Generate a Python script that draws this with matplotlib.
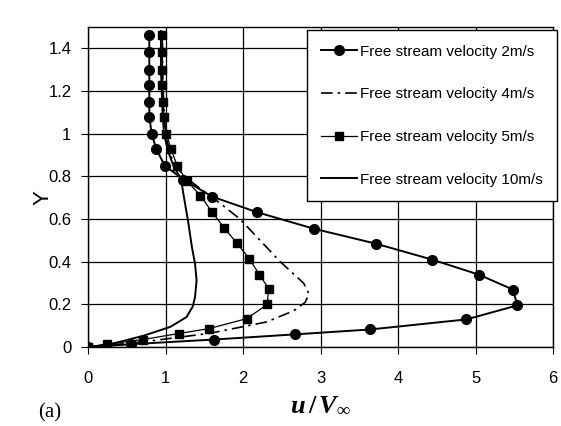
import matplotlib
matplotlib.use('Agg')
import matplotlib.pyplot as plt

plt.rcParams['font.family'] = ['Liberation Sans', 'DejaVu Sans']
plt.rcParams['mathtext.fontset'] = 'custom'
plt.rcParams['mathtext.it'] = 'Liberation Serif:italic:bold'
plt.rcParams['mathtext.rm'] = 'Liberation Serif:bold'

# 2 m/s (circles)
y2 = [0, 0.014, 0.036, 0.06, 0.083, 0.13, 0.196, 0.27, 0.34, 0.41, 0.485, 0.555,
      0.632, 0.705, 0.785, 0.85, 0.927, 1.0, 1.08, 1.15, 1.23, 1.30, 1.38, 1.46]
u2 = [0, 0.56, 1.63, 2.67, 3.64, 4.88, 5.54, 5.48, 5.04, 4.44, 3.71, 2.91,
      2.18, 1.60, 1.23, 0.99, 0.88, 0.82, 0.79, 0.79, 0.79, 0.79, 0.79, 0.79]

# 4 m/s (dash-dot)
y4 = [0, 0.025, 0.065, 0.118, 0.17, 0.21, 0.25, 0.3, 0.4, 0.5, 0.6, 0.686,
      0.75, 0.8, 0.85, 0.9, 1.0, 1.1, 1.2, 1.3, 1.4, 1.48]
u4 = [0, 0.71, 1.57, 2.3, 2.65, 2.8, 2.85, 2.78, 2.48, 2.22, 1.96, 1.66,
      1.42, 1.24, 1.13, 1.06, 1.0, 0.98, 0.97, 0.96, 0.96, 0.96]

# 5 m/s (squares)
y5 = [0, 0.014, 0.036, 0.064, 0.087, 0.134, 0.20, 0.274, 0.34, 0.414, 0.487, 0.557,
      0.632, 0.71, 0.78, 0.85, 0.927, 1.0, 1.08, 1.15, 1.23, 1.30, 1.38, 1.46]
u5 = [0, 0.25, 0.71, 1.17, 1.56, 2.05, 2.31, 2.33, 2.21, 2.08, 1.92, 1.76,
      1.60, 1.45, 1.27, 1.15, 1.07, 1.01, 0.98, 0.97, 0.96, 0.96, 0.96, 0.96]

# 10 m/s (solid)
y10 = [0, 0.018, 0.053, 0.095, 0.141, 0.19, 0.235, 0.313, 0.39, 0.468, 0.59,
       0.717, 0.787, 0.85, 0.92, 1.0, 1.1, 1.2, 1.3, 1.4, 1.48]
u10 = [0, 0.33, 0.71, 1.06, 1.27, 1.35, 1.38, 1.40, 1.38, 1.34, 1.29,
       1.23, 1.20, 1.10, 1.03, 0.98, 0.96, 0.95, 0.94, 0.94, 0.94]

fig = plt.figure(figsize=(5.61, 4.26), dpi=100)
ax = fig.add_axes([0.157, 0.185, 0.829, 0.752])

ax.plot(u2, y2, '-o', color='black', lw=1.4, ms=7, label='Free stream velocity 2m/s')
ax.plot(u4, y4, color='black', lw=1.2, dashes=[7, 3, 1.5, 3], label='Free stream velocity 4m/s')
ax.plot(u5, y5, '-s', color='black', lw=0.9, ms=5.5, label='Free stream velocity 5m/s')
ax.plot(u10, y10, '-', color='black', lw=1.4, label='Free stream velocity 10m/s')

ax.set_xlim(0, 6)
ax.set_ylim(0, 1.5)
ax.set_xticks([0, 1, 2, 3, 4, 5, 6])
ax.set_yticks([0, 0.2, 0.4, 0.6, 0.8, 1.0, 1.2, 1.4])
ax.set_yticklabels(['0', '0.2', '0.4', '0.6', '0.8', '1', '1.2', '1.4'])
ax.grid(True, color='black', lw=0.9)
ax.tick_params(labelsize=12, length=5, color='black', direction='out')
ax.tick_params(axis='x', pad=12)
ax.tick_params(axis='y', pad=7)
for s in ax.spines.values():
    s.set_linewidth(1.0)

ax.set_ylabel('Y', fontsize=16)
ax.yaxis.set_label_coords(-0.075, 0.466)
ax.set_xlabel(r'$u\,/\,V_{\infty}$', fontsize=19)
ax.xaxis.set_label_coords(0.5, -0.14)
fig.text(0.068, 0.02, '(a)', fontsize=15, family='Liberation Serif')

leg = ax.legend(loc='upper right', bbox_to_anchor=(1.008, 0.99), fontsize=11,
                labelspacing=1.88, handlelength=2.3, handletextpad=0.2,
                borderpad=0.95, borderaxespad=0, fancybox=False, framealpha=1,
                edgecolor='black')
leg.get_frame().set_linewidth(1.0)

fig.savefig('out.png', dpi=100)
